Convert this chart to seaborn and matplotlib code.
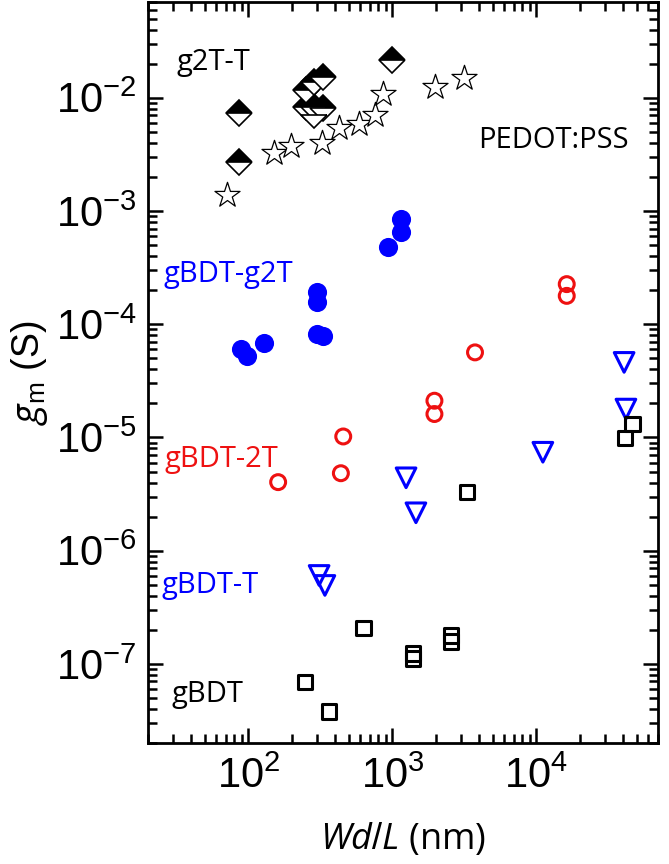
import numpy as np
import pandas as pd
import matplotlib
matplotlib.use("Agg")
import matplotlib.pyplot as plt
import matplotlib.ticker as mticker
import seaborn as sns

# ---------------- data ----------------
# g2T-T (half-filled diamonds)
g2tt_x = [86, 86, 250, 287, 328, 250, 287, 328, 287, 1000]
g2tt_y = [7.3e-3, 2.7e-3, 1.16e-2, 1.37e-2, 1.54e-2, 8.3e-3, 8.3e-3, 8.1e-3, 7.0e-3, 2.15e-2]

# PEDOT:PSS (open stars)
pedot_x = [71, 151, 197, 323, 426, 585, 763, 863, 1980, 3160]
pedot_y = [1.38e-3, 3.27e-3, 3.74e-3, 4.01e-3, 5.43e-3, 5.82e-3, 6.99e-3, 1.08e-2, 1.25e-2, 1.48e-2]

# gBDT-g2T (filled blue circles)
gbdt_g2t_x = [1148, 1148, 929, 299, 299, 299, 328, 128, 89, 98]
gbdt_g2t_y = [8.45e-4, 6.46e-4, 4.85e-4, 1.92e-4, 1.57e-4, 8.18e-5, 7.86e-5, 6.78e-5, 6.0e-5, 5.25e-5]

# gBDT-2T (open red circles)
gbdt_2t_x = [16260, 16260, 3750, 1960, 1960, 456, 439, 161]
gbdt_2t_y = [2.26e-4, 1.78e-4, 5.64e-5, 2.11e-5, 1.61e-5, 1.02e-5, 4.83e-6, 4.03e-6]

# gBDT-T (open blue down-triangles)
gbdt_t_x = [40700, 41900, 11100, 1245, 1458, 310, 340]
gbdt_t_y = [4.6e-5, 1.78e-5, 7.4e-6, 4.4e-6, 2.16e-6, 6.04e-7, 4.93e-7]

# gBDT (open black squares)
gbdt_x = [46500, 41400, 3300, 628, 1390, 1390, 2547, 2547, 248, 363]
gbdt_y = [1.32e-5, 9.9e-6, 3.29e-6, 2.07e-7, 1.23e-7, 1.11e-7, 1.79e-7, 1.58e-7, 6.93e-8, 3.82e-8]

series_labels = ["g2T-T", "PEDOT:PSS", "gBDT-g2T", "gBDT-2T", "gBDT-T", "gBDT"]
x_major_ticks = [1e2, 1e3, 1e4]
y_major_ticks = [1e-7, 1e-6, 1e-5, 1e-4, 1e-3, 1e-2]
x_label_text = r"$Wd/L$ (nm)"
y_label_text = r"$g_\mathregular{m}$ (S)"

# ---------------- style ----------------
sns.set_theme(style="ticks")
plt.rcParams.update({
    "font.family": ["Liberation Sans", "DejaVu Sans"],
    "mathtext.fontset": "custom",
    "mathtext.it": "Open Sans:italic",
    "mathtext.rm": "Liberation Sans",
    "xtick.direction": "in",
    "ytick.direction": "in",
    "xtick.top": True,
    "ytick.right": True,
    "axes.linewidth": 2.0,
    "axes.edgecolor": "black",
    "xtick.color": "black",
    "ytick.color": "black",
    "text.color": "black",
    "axes.labelcolor": "black",
})

BLUE = "#0000ff"
RED = "#ee1111"

fig = plt.figure(figsize=(6.69, 8.64), dpi=100)
ax = fig.add_axes([0.2208, 0.1400, 0.7628, 0.8576])
ax.set_xscale("log")
ax.set_yscale("log")

df_pedot = pd.DataFrame({"x": pedot_x, "y": pedot_y})
df_g2t = pd.DataFrame({"x": gbdt_g2t_x, "y": gbdt_g2t_y})
df_2t = pd.DataFrame({"x": gbdt_2t_x, "y": gbdt_2t_y})
df_t = pd.DataFrame({"x": gbdt_t_x, "y": gbdt_t_y})
df_b = pd.DataFrame({"x": gbdt_x, "y": gbdt_y})

sns.scatterplot(data=df_pedot, x="x", y="y", ax=ax, marker="*", s=360,
                facecolor="white", edgecolor="black", linewidth=0.9, zorder=3)
sns.scatterplot(data=df_g2t, x="x", y="y", ax=ax, marker="o", s=190,
                color=BLUE, edgecolor=BLUE, linewidth=0, zorder=3)
sns.scatterplot(data=df_2t, x="x", y="y", ax=ax, marker="o", s=115,
                facecolor="none", edgecolor=RED, linewidth=2.2, zorder=3)
sns.scatterplot(data=df_t, x="x", y="y", ax=ax, marker="v", s=200,
                facecolor="none", edgecolor=BLUE, linewidth=2.2, zorder=3)
sns.scatterplot(data=df_b, x="x", y="y", ax=ax, marker="s", s=110,
                facecolor="none", edgecolor="black", linewidth=2.2, zorder=3)
ax.plot(g2tt_x, g2tt_y, linestyle="none", marker="D", markersize=13.5,
        fillstyle="top", markerfacecolor="black", markerfacecoloralt="white",
        markeredgecolor="black", markeredgewidth=1.2, zorder=4)

ax.set_xlim(20, 7e4)
ax.set_ylim(2e-8, 7e-2)
ax.set_xticks(x_major_ticks)
ax.set_yticks(y_major_ticks)
ax.xaxis.set_minor_locator(mticker.LogLocator(base=10, subs=np.arange(2, 10), numticks=20))
ax.yaxis.set_minor_locator(mticker.LogLocator(base=10, subs=np.arange(2, 10), numticks=20))
ax.xaxis.set_minor_formatter(mticker.NullFormatter())
ax.yaxis.set_minor_formatter(mticker.NullFormatter())

ax.tick_params(which="major", length=11, width=1.8, labelsize=30, pad=8)
ax.tick_params(which="minor", length=6.5, width=1.8)
ax.tick_params(axis="x", which="major", pad=10)
for lab in ax.get_xticklabels() + ax.get_yticklabels():
    lab.set_fontfamily("Liberation Sans")

ax.set_xlabel(x_label_text, fontsize=26, fontfamily="Open Sans", labelpad=17)
ax.set_ylabel(y_label_text, fontsize=27, fontfamily="Liberation Sans", labelpad=4)

label_font = dict(fontsize=21, fontfamily="Open Sans", va="baseline", ha="left",
                  transform=ax.transAxes)
ax.text(0.057, 0.908, series_labels[0], color="black", **label_font)
ax.text(0.647, 0.803, series_labels[1], color="black", **label_font)
ax.text(0.031, 0.622, series_labels[2], color=BLUE, **label_font)
ax.text(0.032, 0.373, series_labels[3], color=RED, **label_font)
ax.text(0.027, 0.202, series_labels[4], color=BLUE, **label_font)
ax.text(0.047, 0.0557, series_labels[5], color="black", **label_font)

fig.savefig("out.png", dpi=100)
